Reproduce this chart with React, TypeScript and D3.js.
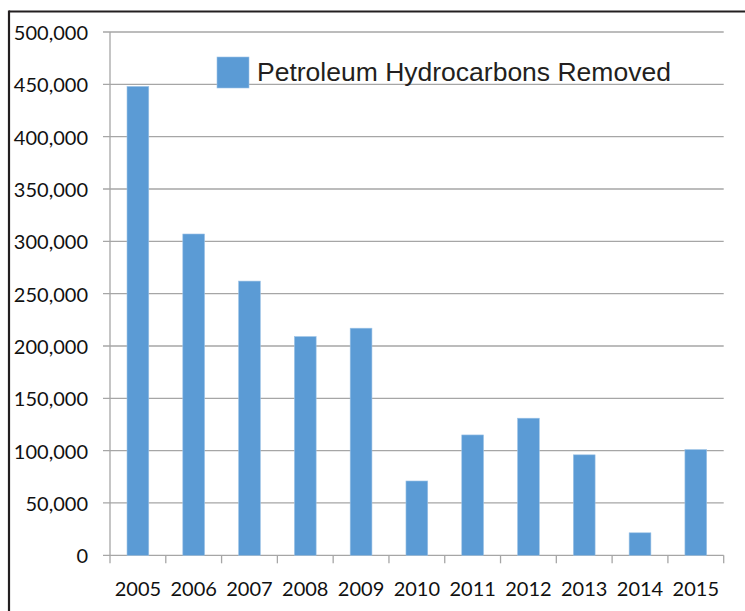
import React, { useEffect, useRef } from 'react';
import * as d3 from 'd3';

const years = ['2005', '2006', '2007', '2008', '2009', '2010', '2011', '2012', '2013', '2014', '2015'];
const removed = [448000, 307000, 262000, 209000, 217000, 71000, 115000, 131000, 96000, 21500, 101000];
const yTicks = [0, 50000, 100000, 150000, 200000, 250000, 300000, 350000, 400000, 450000, 500000];
const seriesName = 'Petroleum Hydrocarbons Removed';

export default function App() {
  const ref = useRef<SVGSVGElement>(null);

  useEffect(() => {
    document.body.style.margin = '0';
    document.documentElement.style.overflow = 'hidden';

    const svg = d3.select(ref.current);
    svg.selectAll('*').remove();

    const left = 110, right = 723.7, top = 32, bottom = 555.3;
    const gray = '#a6a6a6';

    // frame (only top and left edges show in the original crop)
    svg.append('line').attr('x1', 9).attr('x2', 745).attr('y1', 11.5).attr('y2', 11.5)
      .attr('stroke', '#231f20').attr('stroke-width', 2.2);
    svg.append('line').attr('x1', 9).attr('x2', 9).attr('y1', 10.5).attr('y2', 611)
      .attr('stroke', '#231f20').attr('stroke-width', 2.2);

    const x = d3.scaleBand().domain(years).range([left, right]).paddingInner(0.61).paddingOuter(0.305);
    const xTicksScale = d3.scaleBand().domain(years).range([left, right]);
    const y = d3.scaleLinear().domain([0, 500000]).range([bottom, top]);

    // gridlines + y ticks
    const grid = svg.append('g');
    grid.selectAll('line.grid').data(yTicks).enter().append('line')
      .attr('x1', left - 7).attr('x2', right)
      .attr('y1', d => y(d)).attr('y2', d => y(d))
      .attr('stroke', gray).attr('stroke-width', 1.3);

    // y axis line
    svg.append('line').attr('x1', left).attr('x2', left).attr('y1', top).attr('y2', bottom)
      .attr('stroke', gray).attr('stroke-width', 1.3);

    // x ticks
    const edges = years.map(d => xTicksScale(d) as number).concat([right]);
    svg.append('g').selectAll('line').data(edges).enter().append('line')
      .attr('x1', d => d).attr('x2', d => d).attr('y1', bottom).attr('y2', bottom + 8)
      .attr('stroke', gray).attr('stroke-width', 1.3);

    // bars
    svg.append('g').selectAll('rect').data(removed).enter().append('rect')
      .attr('x', (d, i) => x(years[i]) as number)
      .attr('width', x.bandwidth())
      .attr('y', d => y(d))
      .attr('height', d => bottom - y(d))
      .attr('fill', '#5b9bd5')
      .attr('stroke', '#9dc3e6').attr('stroke-width', 0.6);

    // y labels
    const fmt = d3.format(',');
    svg.append('g').selectAll('text').data(yTicks).enter().append('text')
      .text(d => fmt(d))
      .attr('x', 88).attr('y', d => y(d))
      .attr('text-anchor', 'end').attr('dominant-baseline', 'central')
      .attr('font-family', 'Lato, "Open Sans", sans-serif').attr('font-size', 20)
      .attr('fill', '#111');

    // x labels
    svg.append('g').selectAll('text').data(years).enter().append('text')
      .text(d => d)
      .attr('x', d => (xTicksScale(d) as number) + xTicksScale.bandwidth() / 2)
      .attr('y', 596)
      .attr('text-anchor', 'middle')
      .attr('font-family', 'Lato, "Open Sans", sans-serif').attr('font-size', 20)
      .attr('fill', '#111');

    // legend
    const legend = svg.append('g');
    legend.append('rect').attr('x', 217).attr('y', 57).attr('width', 32).attr('height', 31)
      .attr('fill', '#5b9bd5').attr('stroke', '#9dc3e6').attr('stroke-width', 0.6);
    legend.append('text').text(seriesName)
      .attr('x', 257).attr('y', 81)
      .attr('font-family', '"Liberation Sans", Arial, sans-serif').attr('font-size', 26.5)
      .attr('fill', '#231f20');
  }, []);

  return (
    <svg ref={ref} width={745} height={611}
      style={{ position: 'absolute', left: 0, top: 0, background: '#fff', display: 'block' }} />
  );
}
